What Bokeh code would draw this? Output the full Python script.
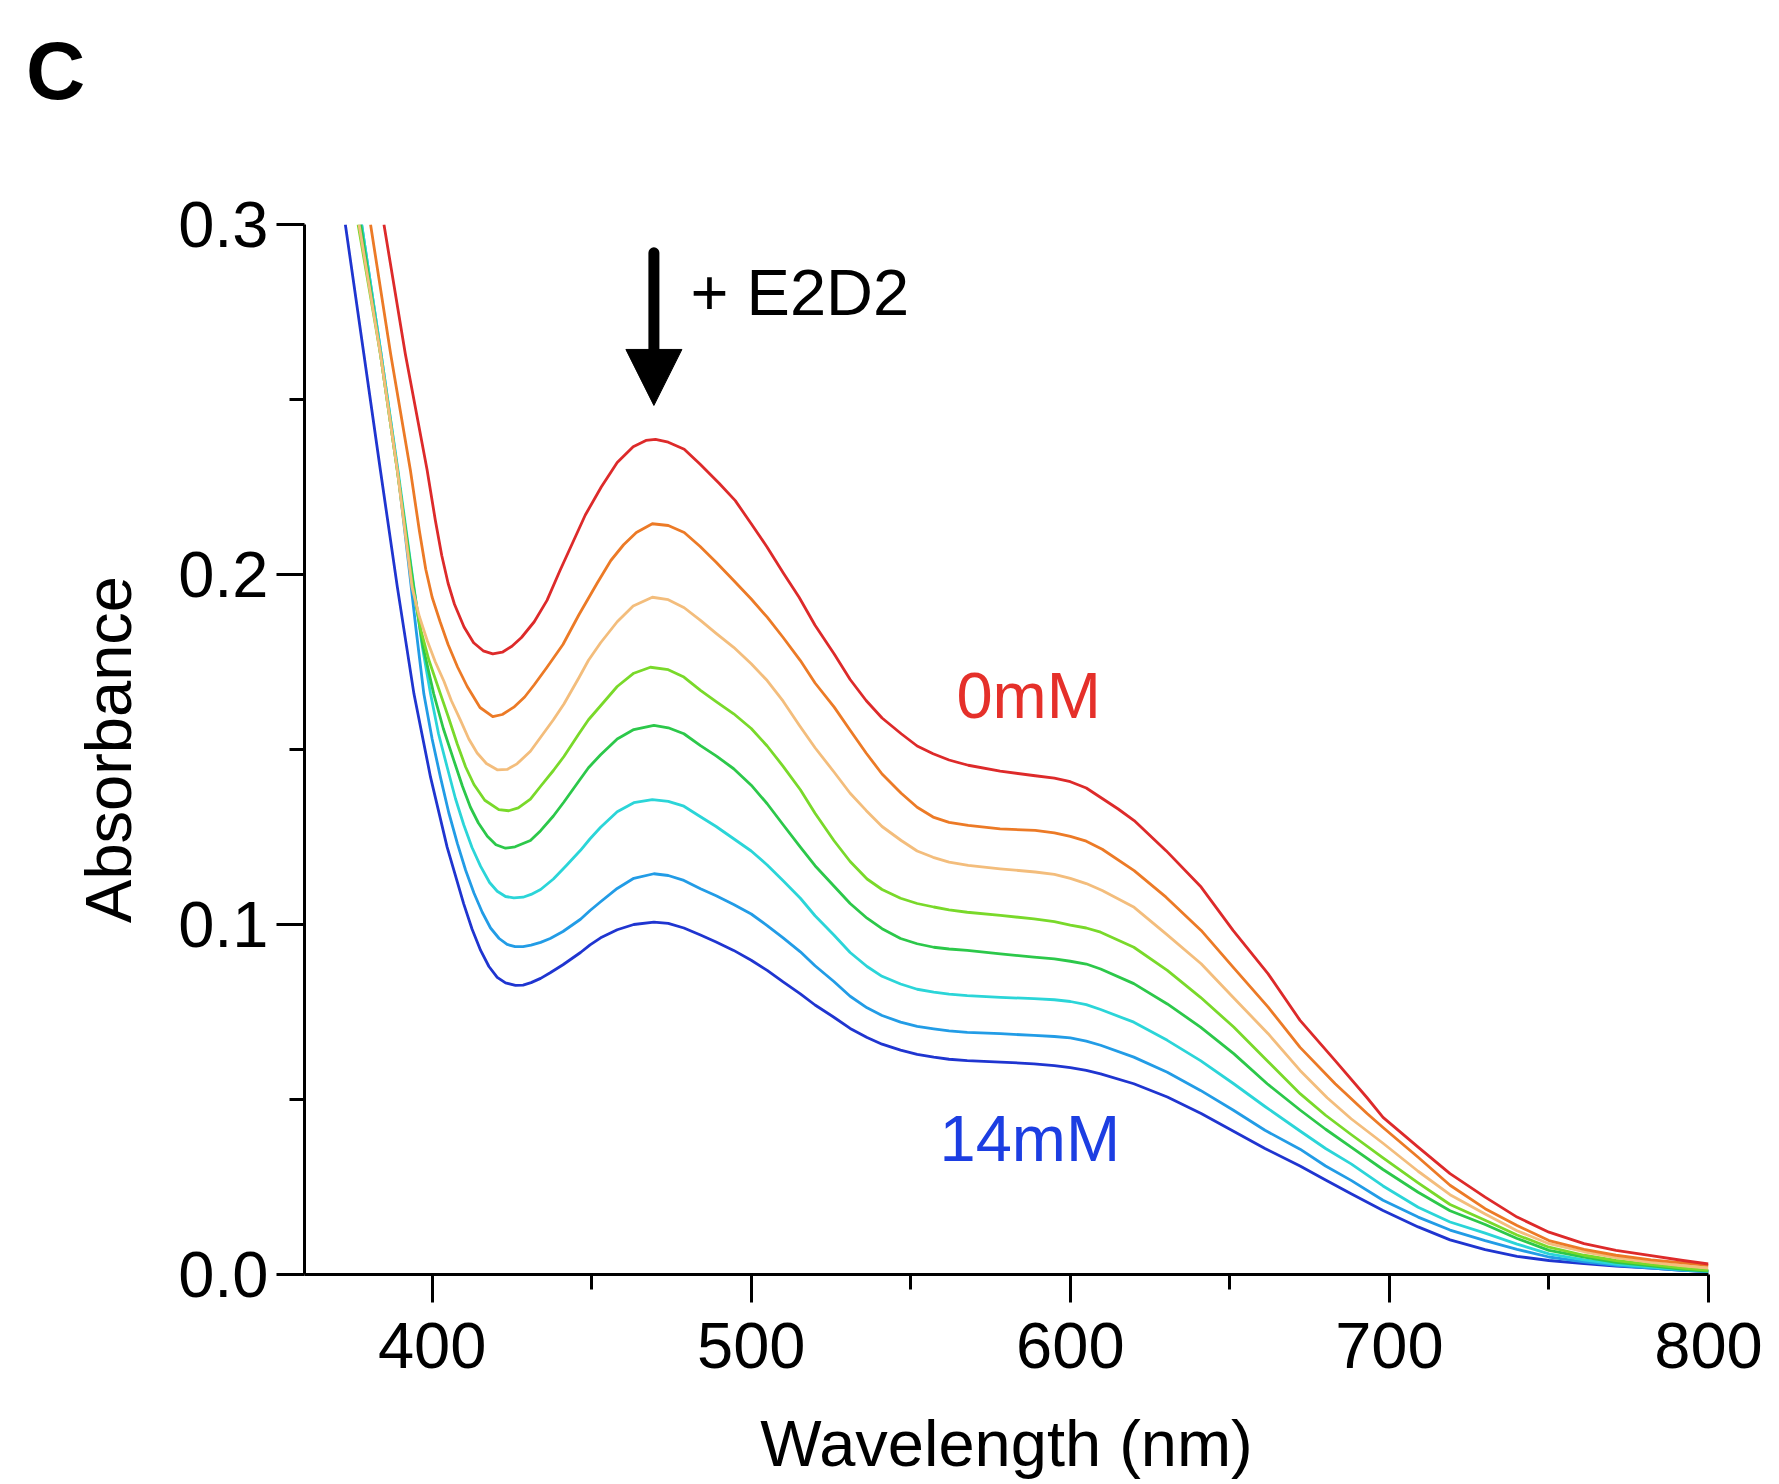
from bokeh.plotting import figure
from bokeh.layouts import column
from bokeh.models import Range1d, FixedTicker, PrintfTickFormatter, Label, Arrow, NormalHead, Div
from bokeh.embed import file_html
from bokeh.resources import INLINE

# ---------------- data (wavelength nm, absorbance) ----------------
red_0mM = [(384.9, 0.300), (391.6, 0.263), (398.4, 0.230), (401, 0.2155), (403, 0.2055), (405, 0.1975),
           (407, 0.1915), (410, 0.1850), (413, 0.1805), (416, 0.1782), (419, 0.1773), (422, 0.1778),
           (425, 0.1795), (428, 0.1820), (432, 0.1865), (436, 0.1926), (440, 0.2010), (444, 0.2090),
           (448, 0.2170), (453, 0.2250), (458, 0.2320), (463, 0.2365), (467, 0.2383), (470, 0.2386),
           (474, 0.2378), (479, 0.2358), (484, 0.2315), (490, 0.2260), (495, 0.2211), (500, 0.2145),
           (505, 0.2078), (510, 0.2005), (515, 0.1935), (520, 0.1855), (526, 0.1773), (531, 0.1700),
           (536, 0.1640), (541, 0.1590), (547, 0.1545), (552, 0.1510), (557, 0.1488), (562, 0.1470),
           (568, 0.1455), (578, 0.1438), (589, 0.1425), (595, 0.1418), (600, 0.1408), (605, 0.1390),
           (610, 0.1360), (615, 0.1330), (620, 0.1297), (630, 0.1211), (641, 0.1107), (651, 0.0983),
           (662, 0.0859), (672, 0.0726), (683, 0.0611), (693, 0.0505), (698, 0.0449), (709, 0.0364),
           (719, 0.0288), (730, 0.0221), (740, 0.0164), (750, 0.0121), (761, 0.0088), (771, 0.0069),
           (782, 0.0054), (792, 0.0040), (800, 0.0030)]

orange_2 = [(380.7, 0.300), (387, 0.263), (393.2, 0.2297), (396, 0.2125), (398, 0.2015), (400, 0.1935),
            (402.5, 0.1865), (405, 0.1800), (408, 0.1735), (411, 0.1680), (415, 0.1620), (419, 0.1594),
            (422, 0.1600), (425.6, 0.1621), (429, 0.1650), (432, 0.1685), (436, 0.1735), (441, 0.1800),
            (446, 0.1885), (451.7, 0.1975), (456, 0.2040), (460, 0.2085), (464, 0.2120), (469, 0.2145),
            (474, 0.2140), (479, 0.2120), (484, 0.2080), (489, 0.2035), (494.5, 0.1983), (500, 0.1930),
            (505, 0.1878), (510, 0.1820), (515.4, 0.1754), (520, 0.1690), (526, 0.1621), (531, 0.1555),
            (536, 0.1490), (541, 0.1430), (547, 0.1375), (552, 0.1335), (557, 0.1307), (562, 0.1292),
            (568, 0.1283), (578, 0.1273), (589, 0.1269), (595, 0.1262), (600, 0.1252), (605, 0.1238),
            (610, 0.1215), (620, 0.1154), (630, 0.1078), (641, 0.0983), (651, 0.0878), (662, 0.0764),
            (672, 0.0649), (683, 0.0545), (693, 0.0460), (698, 0.0420), (709, 0.0335), (719, 0.0255),
            (730, 0.0188), (740, 0.0140), (750, 0.0097), (761, 0.0072), (771, 0.0055), (782, 0.0042),
            (792, 0.0033), (800, 0.0026)]

tan_3 = [(377.1, 0.300), (383.8, 0.263), (389.1, 0.2297), (393.7, 0.1964), (396, 0.1880), (398.5, 0.1810),
         (401, 0.1750), (403.7, 0.1695), (406, 0.1640), (408.9, 0.1583), (411.5, 0.1530), (414.1, 0.1490),
         (417, 0.1460), (420.4, 0.1442), (423.5, 0.1443), (426.6, 0.1459), (430.8, 0.1495), (434, 0.1535),
         (438, 0.1585), (441.3, 0.1630), (446, 0.1705), (449, 0.1755), (452.8, 0.1805), (458, 0.1865),
         (463, 0.1910), (469, 0.1935), (474, 0.1928), (479, 0.1905), (484.1, 0.1869), (489, 0.1832),
         (494.5, 0.1792), (500, 0.1745), (505, 0.1697), (510, 0.1638), (515, 0.1570), (520, 0.1505),
         (526, 0.1435), (531, 0.1375), (536, 0.1326), (541, 0.1280), (547, 0.1240), (552, 0.1210),
         (557, 0.1192), (562, 0.1178), (568, 0.1169), (578, 0.1159), (589, 0.1150), (595, 0.1143),
         (600, 0.1132), (605, 0.1117), (610, 0.1097), (620, 0.1049), (630, 0.0973), (641, 0.0888),
         (651, 0.0792), (662, 0.0688), (672, 0.0583), (680.5, 0.0505), (688, 0.0445), (698, 0.0375),
         (709, 0.0295), (719, 0.0228), (730, 0.0173), (740, 0.0125), (750, 0.0088), (761, 0.0065),
         (771, 0.0048), (782, 0.0035), (792, 0.0025), (800, 0.0018)]

lime_4 = [(376.8, 0.300), (383.8, 0.263), (389.1, 0.2297), (393.9, 0.1964), (396.5, 0.1840), (399, 0.1755),
          (402.6, 0.1659), (405, 0.1595), (407.9, 0.1515), (410.5, 0.1450), (413.1, 0.1400), (416.5, 0.1355),
          (420.9, 0.1328), (424, 0.1325), (427, 0.1333), (430.8, 0.1358), (434, 0.1395), (438, 0.1440),
          (441.3, 0.1480), (446, 0.1545), (449, 0.1585), (452.8, 0.1625), (458, 0.1680), (463.2, 0.1718),
          (468.4, 0.1735), (474, 0.1728), (478.9, 0.1707), (484.1, 0.1669), (489, 0.1637), (494.5, 0.1602),
          (500, 0.1560), (505, 0.1510), (510, 0.1452), (515.4, 0.1385), (520, 0.1318), (525.9, 0.1240),
          (531, 0.1180), (536.3, 0.1130), (541, 0.1100), (546.8, 0.1075), (552, 0.1060), (557.2, 0.1050),
          (562, 0.1042), (567.7, 0.1035), (578.1, 0.1026), (588.6, 0.1016), (595, 0.1008), (600, 0.0998),
          (605, 0.0990), (609.5, 0.0978), (619.9, 0.0935), (630.4, 0.0869), (640.8, 0.0792), (651.2, 0.0707),
          (661.7, 0.0611), (672.1, 0.0516), (680, 0.0455), (688, 0.0400), (698, 0.0333), (709, 0.0262),
          (719, 0.0200), (730, 0.0155), (740, 0.0113), (750, 0.0078), (761, 0.0055), (771, 0.0040),
          (782, 0.0028), (792, 0.0018), (800, 0.0012)]

green_5 = [(377.6, 0.300), (383.8, 0.263), (389.1, 0.2297), (394.2, 0.1964), (397, 0.1800), (400.5, 0.1659),
           (403.5, 0.1560), (406.8, 0.1469), (409.5, 0.1395), (412, 0.1335), (414.5, 0.1290), (417.3, 0.1252),
           (420, 0.1228), (423, 0.1218), (426, 0.1222), (430.8, 0.1240), (434, 0.1268), (438, 0.1310),
           (441.3, 0.1350), (446, 0.1410), (449, 0.1448), (452.8, 0.1485), (458, 0.1530), (463.2, 0.1557),
           (469.5, 0.1569), (474, 0.1562), (478.9, 0.1545), (484.1, 0.1511), (489, 0.1482), (494.5, 0.1445),
           (500, 0.1398), (505, 0.1345), (510, 0.1285), (515.4, 0.1221), (520, 0.1168), (525.9, 0.1110),
           (531, 0.1060), (536.3, 0.1018), (541, 0.0988), (546.8, 0.0960), (552, 0.0945), (557.2, 0.0935),
           (562, 0.0930), (567.7, 0.0926), (578.1, 0.0916), (588.6, 0.0907), (595, 0.0902), (600, 0.0895),
           (605, 0.0887), (609.5, 0.0873), (619.9, 0.0831), (630.4, 0.0773), (640.8, 0.0707), (651.2, 0.0631),
           (661.7, 0.0545), (672, 0.0470), (680, 0.0415), (688, 0.0364), (698, 0.0300), (709, 0.0235),
           (719, 0.0182), (730, 0.0143), (740, 0.0103), (750, 0.0069), (761, 0.0050), (771, 0.0035),
           (782, 0.0025), (792, 0.0015), (800, 0.0010)]

cyan_6 = [(377.9, 0.300), (384, 0.263), (389.3, 0.2297), (394.3, 0.1964), (397, 0.1790), (399.5, 0.1659),
          (402, 0.1545), (404.7, 0.1450), (407.3, 0.1360), (409.9, 0.1285), (412.5, 0.1220), (415.2, 0.1166),
          (418, 0.1120), (420.4, 0.1095), (423, 0.1080), (425.6, 0.1076), (428.5, 0.1078), (431, 0.1086),
          (434, 0.1100), (438, 0.1130), (442, 0.1168), (446.5, 0.1212), (449.5, 0.1245), (452.8, 0.1278),
          (458, 0.1322), (463.2, 0.1348), (469, 0.1357), (474, 0.1352), (478.9, 0.1338), (484.1, 0.1308),
          (489, 0.1280), (494.5, 0.1245), (500, 0.1210), (505, 0.1170), (510, 0.1125), (515.4, 0.1075),
          (520, 0.1025), (525.9, 0.0970), (531, 0.0920), (536.3, 0.0880), (541, 0.0852), (546.8, 0.0830),
          (552, 0.0815), (557.2, 0.0807), (562, 0.0801), (567.7, 0.0797), (578.1, 0.0792), (588.6, 0.0788),
          (595, 0.0785), (600, 0.0780), (605, 0.0771), (609.5, 0.0757), (619.9, 0.0721), (630.4, 0.0669),
          (640.8, 0.0611), (651.2, 0.0545), (661, 0.0480), (672, 0.0410), (680, 0.0360), (688, 0.0316),
          (698, 0.0253), (709, 0.0192), (719, 0.0150), (730, 0.0118), (740, 0.0087), (750, 0.0059),
          (761, 0.0042), (771, 0.0030), (782, 0.0021), (792, 0.0013), (800, 0.0009)]

sky_7 = [(377.9, 0.300), (384, 0.263), (389.2, 0.2297), (392.5, 0.2040), (395, 0.1840), (397.4, 0.1659),
         (400, 0.1530), (402.6, 0.1421), (405.2, 0.1320), (407.9, 0.1232), (410.5, 0.1155), (413.1, 0.1090),
         (415.7, 0.1035), (418.3, 0.0990), (421, 0.0960), (423.5, 0.0943), (426, 0.0937), (428.5, 0.0937),
         (431, 0.0941), (434, 0.0949), (437, 0.0960), (441, 0.0980), (446.5, 0.1015), (449.5, 0.1040),
         (452.8, 0.1065), (458, 0.1103), (463.2, 0.1132), (469.5, 0.1145), (474, 0.1140), (478.9, 0.1126),
         (484.1, 0.1102), (489, 0.1082), (494.5, 0.1057), (500, 0.1030), (505, 0.0997), (510, 0.0962),
         (515.4, 0.0922), (520, 0.0882), (525.9, 0.0837), (531, 0.0795), (536.3, 0.0762), (541, 0.0740),
         (546.8, 0.0721), (552, 0.0709), (557.2, 0.0702), (562, 0.0696), (567.7, 0.0692), (578.1, 0.0688),
         (588.6, 0.0683), (595, 0.0680), (600, 0.0676), (605, 0.0667), (609.5, 0.0655), (619.9, 0.0621),
         (630.4, 0.0578), (640.8, 0.0526), (651, 0.0470), (661, 0.0412), (672, 0.0358), (680, 0.0310),
         (688, 0.0269), (698, 0.0212), (709, 0.0164), (719, 0.0127), (730, 0.0097), (740, 0.0072),
         (750, 0.0050), (761, 0.0036), (771, 0.0026), (782, 0.0018), (792, 0.0012), (800, 0.0008)]

blue_14mM = [(372.8, 0.300), (378.6, 0.263), (383.8, 0.2297), (389.1, 0.1964), (394.3, 0.1659), (399.5, 0.1421),
             (404.7, 0.1221), (409.9, 0.1059), (412.5, 0.0987), (415.2, 0.0926), (417.8, 0.0880), (420.4, 0.0849),
             (423, 0.0833), (426.1, 0.0826), (428.5, 0.0827), (431, 0.0834), (434, 0.0846), (437, 0.0862),
             (441, 0.0885), (446.5, 0.0920), (449.5, 0.0942), (452.8, 0.0962), (458, 0.0985), (463.2, 0.1000),
             (469.5, 0.1007), (474, 0.1003), (478.9, 0.0990), (484.1, 0.0970), (489, 0.0950), (494.5, 0.0926),
             (500, 0.0898), (505, 0.0869), (510, 0.0836), (515.4, 0.0802), (520, 0.0770), (525.9, 0.0735),
             (531, 0.0703), (536.3, 0.0677), (541, 0.0658), (546.8, 0.0641), (552, 0.0629), (557.2, 0.0621),
             (562, 0.0615), (567.7, 0.0611), (578.1, 0.0607), (588.6, 0.0602), (595, 0.0597), (600, 0.0591),
             (605, 0.0583), (609.5, 0.0573), (619.9, 0.0545), (630.4, 0.0507), (641, 0.0460), (651, 0.0410),
             (661, 0.0360), (672, 0.0310), (680, 0.0270), (688, 0.0231), (698, 0.0183), (709, 0.0136),
             (719, 0.0099), (730, 0.0071), (740, 0.0052), (750, 0.0040), (761, 0.0031), (771, 0.0024),
             (782, 0.0018), (792, 0.0012), (800, 0.0008)]

series = [red_0mM, orange_2, tan_3, lime_4, green_5, cyan_6, sky_7, blue_14mM]
series_colors = ["#dd2a2a", "#ec7a26", "#f3bd7c", "#79d92a", "#2cc84a", "#2bd5d8", "#229ce6", "#1f35d0"]

x_major = [400, 500, 600, 700, 800]
x_minor = [450, 550, 650, 750]
y_major = [0.0, 0.1, 0.2, 0.3]
y_minor = [0.05, 0.15, 0.25]

label_first = "0mM"
label_last = "14mM"
annotation_text = "+ E2D2"
panel_letter = "C"

FONT = "Liberation Sans"
W = 1775
HDR_H = 120

# ---------------- header strip holding the panel letter ----------------
hdr = Div(text=('<div style="font-family:\'Liberation Sans\',Arial,sans-serif; font-size:82px; '
                'font-weight:bold; line-height:82px; margin:30px 0 0 26px; color:black;">'
                + panel_letter + '</div>'),
          width=W, height=HDR_H, margin=(0, 0, 0, 0))

# ---------------- main figure ----------------
p = figure(width=W, height=1484 - HDR_H, output_backend="svg", toolbar_location=None,
           x_range=Range1d(360, 800), y_range=Range1d(0, 0.3),
           min_border_left=304, min_border_right=67, min_border_top=224 - HDR_H, min_border_bottom=210)
p.outline_line_color = None
p.xgrid.visible = False
p.ygrid.visible = False

for ax in (p.xaxis[0], p.yaxis[0]):
    ax.axis_line_width = 3
    ax.axis_line_color = "black"
    ax.major_tick_line_width = 3
    ax.minor_tick_line_width = 3
    ax.major_tick_out = 28
    ax.major_tick_in = 0
    ax.minor_tick_out = 15
    ax.minor_tick_in = 0
    ax.major_label_text_font = FONT
    ax.major_label_text_font_size = "65px"
    ax.major_label_text_color = "black"
    ax.axis_label_text_font = FONT
    ax.axis_label_text_font_size = "65px"
    ax.axis_label_text_font_style = "normal"
    ax.axis_label_text_color = "black"

p.xaxis.ticker = FixedTicker(ticks=x_major, minor_ticks=x_minor)
p.yaxis.ticker = FixedTicker(ticks=y_major, minor_ticks=y_minor)
p.yaxis.formatter = PrintfTickFormatter(format="%.1f")
p.xaxis.axis_label = "Wavelength (nm)"
p.yaxis.axis_label = "Absorbance"
p.xaxis.major_label_standoff = 20
p.yaxis.major_label_standoff = 8
p.xaxis.axis_label_standoff = 36
p.yaxis.axis_label_standoff = 30

for pts, col in reversed(list(zip(series, series_colors))):
    wl = [w for w, a in pts]
    ab = [a for w, a in pts]
    p.line(wl, ab, line_color=col, line_width=2.8, line_join="round")

# arrow annotation: rounded shaft + triangular head
p.segment(x0=[469.5], y0=[0.2919], x1=[469.5], y1=[0.2600], line_width=11,
          line_color="black", line_cap="round")
p.add_layout(Arrow(end=NormalHead(size=56, fill_color="black", line_color="black", line_width=1),
                   x_start=469.5, y_start=0.2620, x_end=469.5, y_end=0.2483,
                   line_alpha=0))
p.add_layout(Label(x=481, y=0.2806, text=annotation_text, text_font=FONT, text_font_size="65px",
                   text_baseline="middle", text_align="left", text_color="black"))

p.add_layout(Label(x=564.3, y=0.1654, text=label_first, text_font=FONT, text_font_size="65px",
                   text_baseline="middle", text_align="left", text_color="#e5302a"))
p.add_layout(Label(x=559, y=0.0389, text=label_last, text_font=FONT, text_font_size="65px",
                   text_baseline="middle", text_align="left", text_color="#1c3ee2"))

layout = column(hdr, p, spacing=0)
open("out.html", "w").write(file_html(layout, INLINE))
